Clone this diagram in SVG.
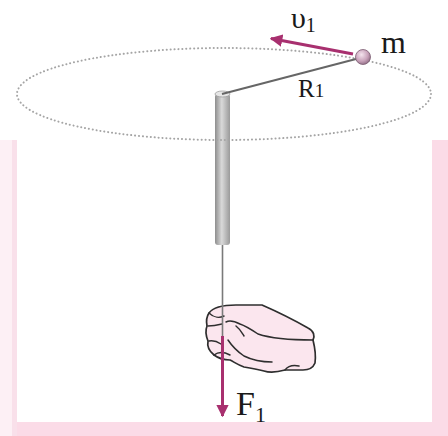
<svg xmlns="http://www.w3.org/2000/svg" width="448" height="436" viewBox="0 0 448 436">
  <defs>
    <linearGradient id="tube" x1="0" y1="0" x2="1" y2="0">
      <stop offset="0" stop-color="#8e8e8e"/>
      <stop offset="0.45" stop-color="#d9d9d9"/>
      <stop offset="1" stop-color="#9a9a9a"/>
    </linearGradient>
    <radialGradient id="ball" cx="0.4" cy="0.35" r="0.7">
      <stop offset="0" stop-color="#f4e4ee"/>
      <stop offset="0.6" stop-color="#c9a3bb"/>
      <stop offset="1" stop-color="#8d6a82"/>
    </radialGradient>
    <marker id="head" viewBox="0 0 10 10" refX="9" refY="5" markerWidth="4.2" markerHeight="4.2" orient="auto" markerUnits="strokeWidth">
      <path d="M0,0 L10,5 L0,10 Z" fill="#a8306f"/>
    </marker>
    <style>
      .orbit { fill: none; stroke: #a5a5a5; stroke-width: 2; stroke-dasharray: 0.1 3.8; stroke-linecap: round; }
      .vec { stroke: #a8306f; stroke-width: 3; fill: none; }
      .lbl { font-family: "Liberation Serif", "Times New Roman", serif; fill: #1a1a1a; }
      .band { fill: #fbdbe7; }
      .ink { fill: none; stroke: #2e2e2e; stroke-width: 1.5; stroke-linecap: round; stroke-linejoin: round; }
    </style>
  </defs>

  <rect width="448" height="436" fill="#ffffff"/>

  <!-- page frame -->
  <g id="frame">
    <rect x="0" y="140" width="17" height="296" fill="#fdf0f5"/>
    <rect x="12" y="140" width="5" height="296" fill="#f9e0ea"/>
    <rect class="band" x="432" y="140" width="16" height="296"/>
  </g>

  <!-- tube -->
  <g id="tube-node">
    <rect x="215" y="94" width="15" height="151" rx="3" fill="url(#tube)"/>
    <ellipse cx="222.5" cy="94" rx="7.5" ry="3" fill="#e6e6e6" stroke="#a0a0a0" stroke-width="0.8"/>
  </g>

  <!-- orbit path -->
  <ellipse class="orbit" cx="224" cy="94" rx="207" ry="46"/>

  <!-- hand -->
  <g id="hand">
    <path d="M209,313 C214,306 226,305 236,305 L262,305 C278,312 294,320 308,328 C314,331 315,336 313,340 C315,348 316,356 315,363 C313,368 309,370 303,370 L285,370 C278,372 270,373 264,371 C256,369 250,368 244,367 C238,365 234,362 230,360 C224,360 218,358 214,355 C209,351 207,346 208,341 C206,336 205,331 207,326 C206,321 207,316 209,313 Z" fill="#fbe6ee" stroke="#2e2e2e" stroke-width="1.7" stroke-linejoin="round"/>
    <path class="ink" d="M209,313 C214,318 220,318 224,316"/>
    <path class="ink" d="M208,326 C213,326 218,325 222,324"/>
    <path class="ink" d="M226,322 C230,320 236,322 240,324 C246,326 252,330 258,334 C270,338 290,340 313,340"/>
    <path class="ink" d="M209,341 C214,340 218,342 221,344"/>
    <path class="ink" d="M228,340 C232,346 238,352 244,356 C252,360 262,362 272,362"/>
    <path class="ink" d="M214,355 C218,352 224,352 230,355"/>
    <path class="ink" d="M236,326 C240,329 242,333 244,336"/>
    <path class="ink" d="M285,370 C288,366 294,365 299,366"/>
  </g>

  <g id="connectors">
    <!-- arm to the mass -->
    <line x1="222" y1="94" x2="356" y2="59" stroke="#666666" stroke-width="2"/>
    <!-- string through the tube -->
    <line x1="222.5" y1="245" x2="222.5" y2="336" stroke="#7a7a7a" stroke-width="1.6"/>
    <!-- velocity -->
    <line class="vec" x1="353" y1="54" x2="271" y2="38.5" marker-end="url(#head)"/>
    <!-- force -->
    <line class="vec" x1="222.5" y1="336" x2="222.5" y2="416" marker-end="url(#head)"/>
  </g>

  <!-- mass -->
  <g id="mass">
    <circle cx="363" cy="57" r="7.5" fill="url(#ball)" stroke="#7a5a70" stroke-width="0.8"/>
  </g>

  <!-- labels -->
  <g id="labels">
    <text class="lbl" x="291" y="28" font-size="30">υ<tspan font-size="20" dy="4">1</tspan></text>
    <text class="lbl" x="381" y="53" font-size="32">m</text>
    <text class="lbl" x="298" y="97" font-size="25">R<tspan font-size="19">1</tspan></text>
    <text class="lbl" x="236" y="415" font-size="34">F<tspan font-size="22" dy="7">1</tspan></text>
  </g>

  <!-- bottom band sits over the subscript -->
  <rect class="band" x="17" y="422" width="431" height="14"/>
</svg>
